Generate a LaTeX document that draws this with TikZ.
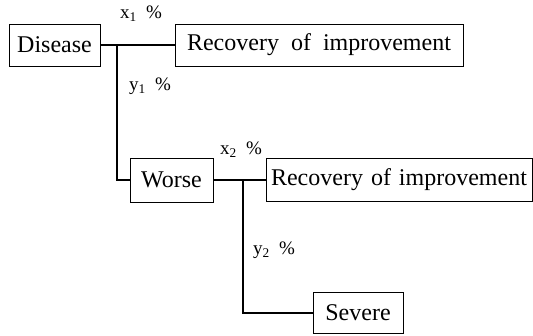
\documentclass[tikz,border=0pt]{standalone}
\usepackage{fontspec}
\setmainfont{Liberation Serif}
\begin{document}
\begin{tikzpicture}[x=1pt,y=-1pt,
  box/.style={draw,line width=0.9pt,inner sep=0pt,font=\fontsize{24}{28}\selectfont},
  conn/.style={line width=1.4pt},
  lab/.style={inner sep=0pt,font=\fontsize{19}{22}\selectfont}]
\useasboundingbox (0,0) rectangle (533,335);
\node[box,minimum width=91pt,minimum height=42pt] (dis) at (54.5,45) {Disease};
\node[box,minimum width=288pt,minimum height=42pt] (rec1) at (319,45) {Recovery\ \ of\ \ improvement};
\node[box,minimum width=83pt,minimum height=44pt] (wor) at (171.5,180) {Worse};
\node[box,minimum width=266pt,minimum height=43pt] (rec2) at (399,180) {Recovery\hspace{8pt}of\hspace{8pt}improvement};
\node[box,minimum width=90pt,minimum height=41pt] (sev) at (358,313) {Severe};
\coordinate (j1) at (117,45);
\coordinate (j2) at (243,180);
\draw[conn] (dis.east) -- (rec1.west);
\draw[conn] (j1) |- (wor.west);
\draw[conn] (wor.east) -- (rec2.west);
\draw[conn] (j2) |- (sev.west);
\node[lab] (lx1) at (141,14) {x\textsubscript{1}\ \ \%};
\node[lab] (ly1) at (150,86) {y\textsubscript{1}\ \ \%};
\node[lab] (lx2) at (241,150) {x\textsubscript{2}\ \ \%};
\node[lab] (ly2) at (274,250) {y\textsubscript{2}\ \ \%};
\end{tikzpicture}
\end{document}
